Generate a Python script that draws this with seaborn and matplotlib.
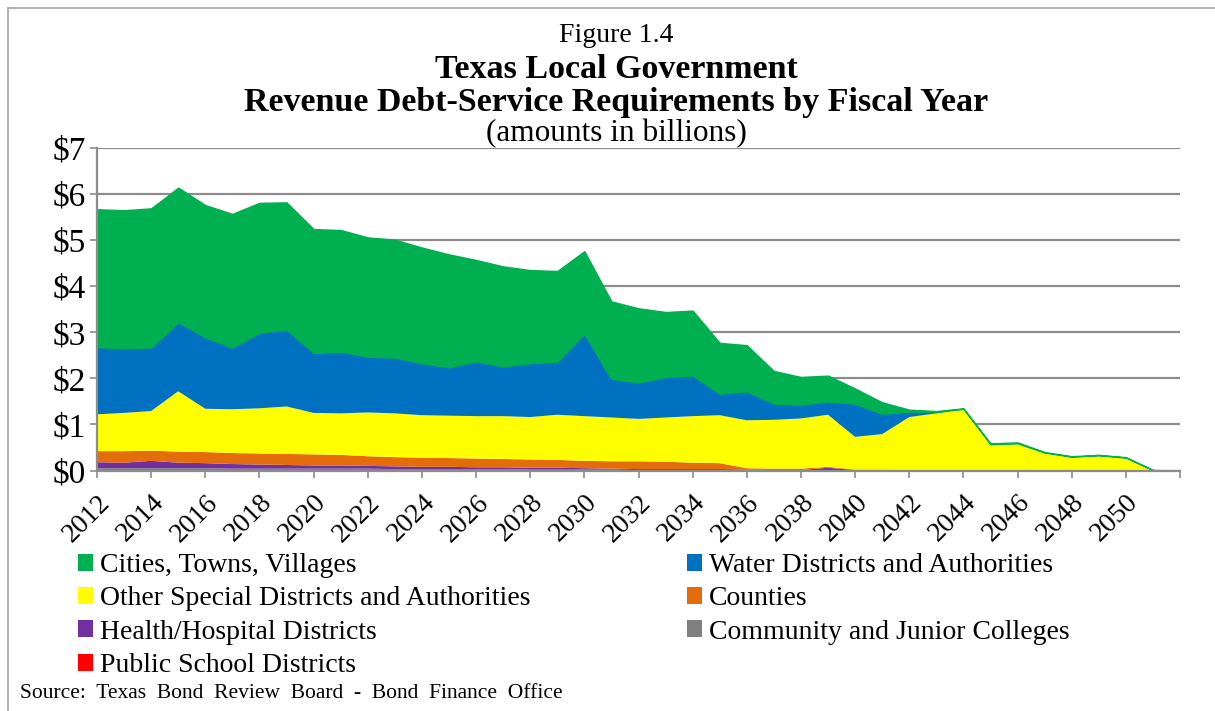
import numpy as np
import pandas as pd
import matplotlib
matplotlib.use("Agg")
import matplotlib.pyplot as plt
from matplotlib.patches import Patch
from matplotlib.lines import Line2D
import seaborn as sns

# ---------------- data (billions of dollars) ----------------
years = list(range(2012, 2053))

cities = [2.99, 3.00, 3.02, 2.92, 2.87, 2.90, 2.82, 2.76, 2.69, 2.64, 2.59, 2.56, 2.51, 2.45,
          2.20, 2.17, 2.02, 1.97, 1.79, 1.68, 1.61, 1.41, 1.41, 1.10, 1.00, 0.71, 0.60, 0.56,
          0.33, 0.25, 0.04, 0.02, 0.01, 0.02, 0.02, 0.01, 0.01, 0.01, 0.01, 0.00, 0.00]
water = [1.46, 1.40, 1.38, 1.50, 1.55, 1.34, 1.64, 1.67, 1.30, 1.34, 1.21, 1.21, 1.13, 1.05,
         1.19, 1.08, 1.17, 1.15, 1.79, 0.84, 0.79, 0.88, 0.88, 0.47, 0.63, 0.35, 0.30, 0.29,
         0.72, 0.44, 0.12, 0.03, 0.01, 0.00, 0.00, 0.00, 0.00, 0.00, 0.00, 0.00, 0.00]
other_special = [0.80, 0.83, 0.86, 1.31, 0.94, 0.95, 0.98, 1.03, 0.90, 0.90, 0.95, 0.95, 0.92, 0.92,
                 0.92, 0.93, 0.92, 0.98, 0.97, 0.95, 0.92, 0.96, 1.01, 1.04, 1.04, 1.06, 1.09, 1.13,
                 0.71, 0.77, 1.15, 1.24, 1.33, 0.57, 0.59, 0.39, 0.30, 0.33, 0.28, 0.01, 0.00]
counties = [0.24, 0.25, 0.22, 0.24, 0.24, 0.24, 0.24, 0.24, 0.24, 0.23, 0.21, 0.20, 0.20, 0.19,
            0.19, 0.18, 0.18, 0.17, 0.16, 0.16, 0.17, 0.16, 0.14, 0.13, 0.03, 0.03, 0.03, 0.02,
            0.01, 0.02, 0.01, 0.00, 0.00, 0.00, 0.00, 0.00, 0.00, 0.00, 0.00, 0.00, 0.00]
health = [0.13, 0.12, 0.16, 0.12, 0.11, 0.10, 0.09, 0.08, 0.07, 0.07, 0.06, 0.06, 0.05, 0.05,
          0.04, 0.04, 0.04, 0.04, 0.03, 0.02, 0.02, 0.02, 0.02, 0.02, 0.01, 0.01, 0.01, 0.06,
          0.01, 0.00, 0.00, 0.00, 0.00, 0.00, 0.00, 0.00, 0.00, 0.00, 0.00, 0.00, 0.00]
colleges = [0.05, 0.05, 0.05, 0.05, 0.05, 0.04, 0.04, 0.04, 0.04, 0.04, 0.04, 0.03, 0.03, 0.03,
            0.03, 0.03, 0.02, 0.02, 0.02, 0.02, 0.01, 0.01, 0.01, 0.01, 0.01, 0.00, 0.00, 0.00,
            0.00, 0.00, 0.00, 0.00, 0.00, 0.00, 0.00, 0.00, 0.00, 0.00, 0.00, 0.00, 0.00]
schools = [0.0] * 41

series_names = ["Public School Districts", "Community and Junior Colleges",
                "Health/Hospital Districts", "Counties",
                "Other Special Districts and Authorities",
                "Water Districts and Authorities", "Cities, Towns, Villages"]
series_colors = ["#FF0000", "#808080", "#7030A0", "#E46C0A", "#FFFF00", "#0070C0", "#00B050"]

x_tick_years = list(range(2012, 2053, 2))
x_tick_labels = [str(y) for y in range(2012, 2051, 2)] + [""]
y_ticks = list(range(0, 8))
y_tick_labels = ["$%d" % v for v in y_ticks]

title_lines = ["Figure 1.4", "Texas Local Government",
               "Revenue Debt-Service Requirements by Fiscal Year", "(amounts in billions)"]
source_text = "Source:  Texas  Bond  Review  Board  -  Bond  Finance  Office"

# ---------------- figure ----------------
sns.set_theme(style="white")
plt.rcParams["font.family"] = ["Liberation Serif", "DejaVu Serif"]
plt.rcParams["text.color"] = "black"
plt.rcParams["xtick.color"] = "black"
plt.rcParams["ytick.color"] = "black"
plt.rcParams["legend.labelcolor"] = "black"

W, H = 1215, 711
fig = plt.figure(figsize=(W / 100, H / 100), dpi=100)
fig.patch.set_facecolor("white")

def fx(px):
    return px / W

def fy(py):
    return 1 - py / H

ax = fig.add_axes([fx(97), fy(470.5), fx(1180) - fx(97), fy(148) - fy(470.5)])

df = pd.DataFrame({"year": years,
                   "Public School Districts": schools,
                   "Community and Junior Colleges": colleges,
                   "Health/Hospital Districts": health,
                   "Counties": counties,
                   "Other Special Districts and Authorities": other_special,
                   "Water Districts and Authorities": water,
                   "Cities, Towns, Villages": cities})

polys = ax.stackplot(df["year"], *[df[n] for n in series_names],
                     colors=series_colors, labels=series_names, linewidth=0)
for p in polys:
    p.set_edgecolor("none")
    p.set_linewidth(0)
polys[-1].set_edgecolor("#00B050")
polys[-1].set_linewidth(1.0)

grid_c = "#8C8C8C"
ax.set_axisbelow(True)
ax.yaxis.grid(True, color=grid_c, linewidth=1.6)
ax.xaxis.grid(False)
ax.set_xlim(2012, 2052)
ax.set_ylim(0, 7)
ax.set_yticks(y_ticks)
ax.set_yticklabels(y_tick_labels)
ax.set_xticks(x_tick_years)
ax.set_xticklabels(x_tick_labels, rotation=45, ha="right", va="top", rotation_mode="anchor")

for s in ["top", "right"]:
    ax.spines[s].set_visible(False)
for s in ["left", "bottom"]:
    ax.spines[s].set_visible(True)
    ax.spines[s].set_color(grid_c)
    ax.spines[s].set_linewidth(1.6)
ax.tick_params(axis="y", which="major", length=5, width=1.2, color=grid_c,
               labelcolor="black", labelsize=24, pad=3, left=True)
ax.tick_params(axis="x", which="major", length=5, width=1.2, color=grid_c,
               labelcolor="black", labelsize=20, pad=9, bottom=True)
ax.set_xlabel("")
ax.set_ylabel("")
sns.despine(ax=ax, top=True, right=True)

# ---------------- titles ----------------
tx = fx(616)
fig.text(tx, fy(36), title_lines[0], ha="center", va="center", fontsize=20, color="black")
fig.text(tx, fy(69), title_lines[1], ha="center", va="center", fontsize=24.5,
         fontweight="bold", color="black")
fig.text(tx, fy(102), title_lines[2], ha="center", va="center", fontsize=24.5,
         fontweight="bold", color="black")
fig.text(tx, fy(134), title_lines[3], ha="center", va="center", fontsize=22.5, color="black")

# ---------------- legends ----------------
handles = {n: Patch(facecolor=c, edgecolor="none") for n, c in zip(series_names, series_colors)}
col1 = ["Cities, Towns, Villages", "Other Special Districts and Authorities",
        "Health/Hospital Districts", "Public School Districts"]
col2 = ["Water Districts and Authorities", "Counties", "Community and Junior Colleges"]

leg_kw = dict(loc="upper left", frameon=False, fontsize=20, handlelength=0.55,
              handleheight=0.55, handletextpad=0.25, labelspacing=0.30, borderpad=0,
              borderaxespad=0, labelcolor="black")
fig.legend([handles[n] for n in col1], col1, bbox_to_anchor=(fx(78), fy(553)), **leg_kw)
fig.legend([handles[n] for n in col2], col2, bbox_to_anchor=(fx(687), fy(553)), **leg_kw)

fig.text(fx(20), fy(694), source_text, ha="left", va="center", fontsize=15.5, color="black")

# ---------------- outer frame ----------------
frame_c = "#A6A6A6"
fig.add_artist(Line2D([fx(8), fx(1215)], [fy(8), fy(8)], color=frame_c, linewidth=1.2))
fig.add_artist(Line2D([fx(8), fx(8)], [fy(8), fy(711)], color=frame_c, linewidth=1.2))

fig.savefig("out.png", dpi=100, facecolor="white")
